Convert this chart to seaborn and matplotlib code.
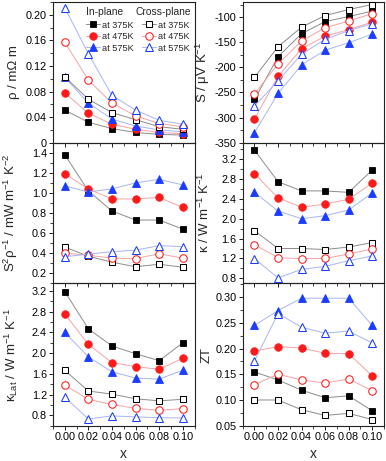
import matplotlib
matplotlib.use("Agg")
import matplotlib.pyplot as plt
import seaborn as sns
import pandas as pd
from matplotlib.ticker import MultipleLocator
from matplotlib.lines import Line2D

# ---------------- data ----------------
x_vals = [0.00, 0.02, 0.04, 0.06, 0.08, 0.10]
x_ticklabels = ["0.00", "0.02", "0.04", "0.06", "0.08", "0.10"]
temp_labels = ["at 375K", "at 475K", "at 575K"]
group_titles = ["In-plane", "Cross-plane"]

# electrical resistivity rho (mOhm m)
rho_in_375 = [0.051, 0.032, 0.022, 0.016, 0.013, 0.012]
rho_in_475 = [0.078, 0.046, 0.029, 0.021, 0.016, 0.014]
rho_in_575 = [0.102, 0.062, 0.037, 0.026, 0.020, 0.017]
rho_cr_375 = [0.103, 0.068, 0.047, 0.036, 0.025, 0.021]
rho_cr_475 = [0.157, 0.098, 0.062, 0.042, 0.030, 0.025]
rho_cr_575 = [0.211, 0.139, 0.074, 0.051, 0.035, 0.029]

# Seebeck coefficient S (uV/K)
S_in_375 = [-264, -179, -133, -109, -99, -88]
S_in_475 = [-303, -218, -163, -138, -125, -110]
S_in_575 = [-330, -252, -195, -166, -151, -134]
S_cr_375 = [-220, -159, -120, -97, -85, -75]
S_cr_475 = [-253, -193, -148, -121, -108, -93]
S_cr_575 = [-277, -227, -174, -144, -127, -113]

# power factor S^2/rho (mW m^-1 K^-2)
pf_in_375 = [1.38, 1.02, 0.82, 0.73, 0.73, 0.64]
pf_in_475 = [1.19, 1.04, 0.94, 0.94, 0.955, 0.855]
pf_in_575 = [1.07, 1.01, 1.04, 1.10, 1.135, 1.08]
pf_cr_375 = [0.46, 0.37, 0.31, 0.265, 0.29, 0.26]
pf_cr_475 = [0.40, 0.38, 0.35, 0.345, 0.395, 0.35]
pf_cr_575 = [0.365, 0.39, 0.415, 0.43, 0.475, 0.465]

# total thermal conductivity kappa (W m^-1 K^-1)
k_in_375 = [3.38, 2.745, 2.56, 2.56, 2.53, 2.98]
k_in_475 = [2.905, 2.42, 2.23, 2.295, 2.39, 2.72]
k_in_575 = [2.53, 2.155, 2.00, 2.06, 2.175, 2.52]
k_cr_375 = [1.76, 1.40, 1.40, 1.38, 1.43, 1.52]
k_cr_475 = [1.48, 1.215, 1.195, 1.20, 1.29, 1.39]
k_cr_575 = [1.195, 0.81, 0.98, 1.04, 1.155, 1.25]

# lattice thermal conductivity kappa_Lat (W m^-1 K^-1)
kl_in_375 = [3.19, 2.47, 2.14, 1.99, 1.855, 2.20]
kl_in_475 = [2.76, 2.17, 1.82, 1.74, 1.69, 1.90]
kl_in_575 = [2.40, 1.93, 1.64, 1.52, 1.50, 1.67]
kl_cr_375 = [1.67, 1.27, 1.21, 1.12, 1.08, 1.11]
kl_cr_475 = [1.385, 1.11, 1.01, 0.935, 0.897, 0.93]
kl_cr_575 = [1.15, 0.73, 0.79, 0.77, 0.755, 0.75]

# figure of merit ZT
zt_in_375 = [0.1545, 0.139, 0.119, 0.1045, 0.108, 0.079]
zt_in_475 = [0.195, 0.204, 0.201, 0.191, 0.190, 0.147]
zt_in_575 = [0.245, 0.274, 0.298, 0.298, 0.298, 0.245]
zt_cr_375 = [0.100, 0.100, 0.081, 0.070, 0.074, 0.062]
zt_cr_475 = [0.130, 0.150, 0.139, 0.133, 0.141, 0.118]
zt_cr_575 = [0.176, 0.268, 0.2416, 0.230, 0.234, 0.211]

# ---------------- style ----------------
sns.set_theme(style="ticks")
plt.rcParams["font.family"] = ["Liberation Sans", "DejaVu Sans"]
plt.rcParams["mathtext.default"] = "regular"
plt.rcParams["axes.linewidth"] = 0.8
plt.rcParams["axes.edgecolor"] = "#222222"

marker_colors = ["#000000", "#ff1a1a", "#1a3cff"]
line_colors = ["#8c8c8c", "#f6a3a3", "#a7b5f6"]
markers = ["s", "o", "^"]
msizes = [4.6, 5.4, 5.6]

fig = plt.figure(figsize=(3.86, 4.61), dpi=100)
W, H = 386.0, 461.0
col_x = [(53.0, 194.5), (242.7, 384.0)]
row_y = [(2.0, 142.7), (142.7, 283.3), (283.3, 425.7)]


def make_ax(r, c):
    x0, x1 = col_x[c]
    y0, y1 = row_y[r]
    return fig.add_axes([x0 / W, 1 - y1 / H, (x1 - x0) / W, (y1 - y0) / H])


def draw_panel(ax, in_series, cr_series):
    for i, ys in enumerate(in_series):
        df = pd.DataFrame({"x": x_vals, "y": ys})
        sns.lineplot(data=df, x="x", y="y", ax=ax, color=line_colors[i],
                     linewidth=0.7, marker=markers[i], markersize=msizes[i],
                     markerfacecolor=marker_colors[i],
                     markeredgecolor=marker_colors[i], markeredgewidth=0.6,
                     errorbar=None, legend=False, zorder=3)
    for i, ys in enumerate(cr_series):
        df = pd.DataFrame({"x": x_vals, "y": ys})
        sns.lineplot(data=df, x="x", y="y", ax=ax, color=line_colors[i],
                     linewidth=0.7, marker=markers[i], markersize=msizes[i],
                     markerfacecolor="white",
                     markeredgecolor=marker_colors[i], markeredgewidth=0.75,
                     errorbar=None, legend=False, zorder=4)


panels = [
    (0, 0, [rho_in_375, rho_in_475, rho_in_575], [rho_cr_375, rho_cr_475, rho_cr_575],
     (0, 0.22), [0, 0.04, 0.08, 0.12, 0.16, 0.20], ["0", "0.04", "0.08", "0.12", "0.16", "0.20"], 0.02,
     "ρ / mΩ m"),
    (0, 1, [S_in_375, S_in_475, S_in_575], [S_cr_375, S_cr_475, S_cr_575],
     (-350, -70), [-350, -300, -250, -200, -150, -100], ["-350", "-300", "-250", "-200", "-150", "-100"], 25,
     "S / μV K$^{-1}$"),
    (1, 0, [pf_in_375, pf_in_475, pf_in_575], [pf_cr_375, pf_cr_475, pf_cr_575],
     (0.1, 1.5), [0.2, 0.4, 0.6, 0.8, 1.0, 1.2, 1.4], ["0.2", "0.4", "0.6", "0.8", "1.0", "1.2", "1.4"], 0.1,
     "S$^{2}$ρ$^{-1}$ / mW m$^{-1}$ K$^{-2}$"),
    (1, 1, [k_in_375, k_in_475, k_in_575], [k_cr_375, k_cr_475, k_cr_575],
     (0.7, 3.53), [0.8, 1.2, 1.6, 2.0, 2.4, 2.8, 3.2], ["0.8", "1.2", "1.6", "2.0", "2.4", "2.8", "3.2"], 0.2,
     "κ / W m$^{-1}$ K$^{-1}$"),
    (2, 0, [kl_in_375, kl_in_475, kl_in_575], [kl_cr_375, kl_cr_475, kl_cr_575],
     (0.6, 3.35), [0.8, 1.2, 1.6, 2.0, 2.4, 2.8, 3.2], ["0.8", "1.2", "1.6", "2.0", "2.4", "2.8", "3.2"], 0.2,
     "κ$_{Lat}$ / W m$^{-1}$ K$^{-1}$"),
    (2, 1, [zt_in_375, zt_in_475, zt_in_575], [zt_cr_375, zt_cr_475, zt_cr_575],
     (0.05, 0.327), [0.05, 0.10, 0.15, 0.20, 0.25, 0.30], ["0.05", "0.10", "0.15", "0.20", "0.25", "0.30"], 0.025,
     "ZT"),
]

axes = {}
for r, c, ins, crs, ylim, yt, ytl, yminor, ylabel in panels:
    ax = make_ax(r, c)
    axes[(r, c)] = ax
    draw_panel(ax, ins, crs)
    ax.set_xlim(-0.01, 0.11)
    ax.set_ylim(*ylim)
    ax.set_xticks(x_vals)
    ax.xaxis.set_minor_locator(MultipleLocator(0.01))
    ax.set_yticks(yt)
    ax.set_yticklabels(ytl)
    ax.yaxis.set_minor_locator(MultipleLocator(yminor))
    if r == 2:
        ax.set_xticklabels(x_ticklabels)
        ax.set_xlabel("x", fontsize=10)
        ax.xaxis.set_label_coords(0.5, -0.15)
    else:
        ax.set_xticklabels([])
        ax.set_xlabel("")
    ax.set_ylabel(ylabel, fontsize=9.5)
    ax.yaxis.set_label_coords(-0.235 if c == 0 else -0.215, 0.5)
    ax.tick_params(axis="both", which="major", direction="out", length=3.2,
                   width=0.7, labelsize=7.8, pad=1.2, colors="#222222",
                   labelcolor="black")
    ax.tick_params(axis="both", which="minor", direction="out", length=2.2,
                   width=0.6, colors="#222222")
    ax.tick_params(top=False, right=False, which="both")
    for sp in ax.spines.values():
        sp.set_visible(True)
        sp.set_linewidth(0.8)
    ax.set_zorder(5 - r)
    ax.patch.set_alpha(0)

# legend in the rho panel
ax0 = axes[(0, 0)]
handles = []
labels = []
for grp in range(2):
    for i in range(3):
        handles.append(Line2D([0], [0], color=line_colors[i], linewidth=0.7,
                              marker=markers[i], markersize=msizes[i],
                              markerfacecolor=marker_colors[i] if grp == 0 else "white",
                              markeredgecolor=marker_colors[i],
                              markeredgewidth=0.6 if grp == 0 else 0.75))
        labels.append(temp_labels[i])
leg = ax0.legend(handles, labels, ncol=2, loc="upper left",
                 bbox_to_anchor=((86 - 53) / 141.5, (142.7 - 20.5) / 140.7),
                 frameon=False, fontsize=6.6, handlelength=1.5,
                 handletextpad=0.25, columnspacing=0.9, labelspacing=0.28,
                 borderpad=0, borderaxespad=0)
ax0.text((86 - 53) / 141.5, (142.7 - 12) / 140.7, group_titles[0],
         transform=ax0.transAxes, fontsize=7.4, ha="left", va="center")
ax0.text((136 - 53) / 141.5, (142.7 - 12) / 140.7, group_titles[1],
         transform=ax0.transAxes, fontsize=7.4, ha="left", va="center")

fig.savefig("out.png", dpi=100)
